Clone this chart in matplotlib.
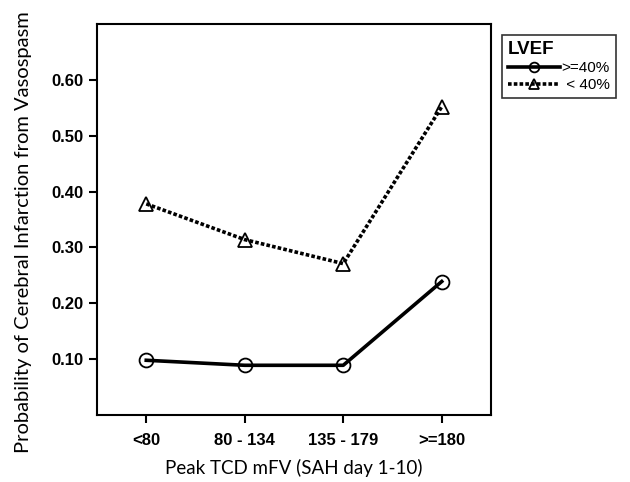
import matplotlib
matplotlib.use("Agg")
import matplotlib.pyplot as plt

categories = ["<80", "80 - 134", "135 - 179", ">=180"]
lvef_high = [0.098, 0.089, 0.089, 0.239]   # >=40%
lvef_low = [0.378, 0.314, 0.271, 0.552]    # < 40%
yticks = [0.10, 0.20, 0.30, 0.40, 0.50, 0.60]

fig = plt.figure(figsize=(6.3, 4.82), dpi=100)
ax = fig.add_axes([97 / 630, 1 - 415 / 482, 394 / 630, 391 / 482])

x = range(len(categories))
ax.plot(x, lvef_high, color="black", lw=2.6, marker="o", ms=10,
        mfc="none", mec="black", mew=1.3, label=">=40%")
ax.plot(x, lvef_low, color="black", lw=2.6, ls=(0, (1, 0.6)), marker="^", ms=10,
        mfc="none", mec="black", mew=1.3, label=" < 40%")

ax.set_xlim(-0.5, 3.5)
ax.set_ylim(0, 0.70)
ax.set_xticks(list(x))
ax.set_xticklabels(categories, fontsize=12, fontweight="bold", family="Liberation Sans")
ax.set_yticks(yticks)
ax.set_yticklabels([f"{v:.2f}" for v in yticks], fontsize=12, fontweight="bold",
                   family="Liberation Sans")
ax.tick_params(direction="out", length=6, width=1.5)
ax.tick_params(axis="x", pad=7)
ax.tick_params(axis="y", pad=4)
for s in ax.spines.values():
    s.set_linewidth(1.5)

ax.set_xlabel("Peak TCD mFV (SAH day 1-10)", fontsize=13.5, family="Lato", labelpad=8)
fig.text(24 / 630, 1 - 232 / 482, "Probability of Cerebral Infarction from Vasospasm",
         rotation=90, ha="center", va="center", fontsize=14.5, family="Lato")

leg = ax.legend(loc="upper left", bbox_to_anchor=(502 / 630, 1 - 35 / 482),
                bbox_transform=fig.transFigure, borderaxespad=0, title="LVEF",
                frameon=True, fancybox=False, edgecolor="black", handlelength=3.4,
                handletextpad=0.1, borderpad=0.4, labelspacing=0.2,
                markerscale=0.7, alignment="left",
                prop={"family": "Liberation Sans", "size": 11})
leg.get_title().set_fontweight("bold")
leg.get_title().set_fontsize(13.5)
leg.get_title().set_family("Liberation Sans")
leg.get_frame().set_linewidth(1.2)

fig.savefig("out.png", dpi=100)
